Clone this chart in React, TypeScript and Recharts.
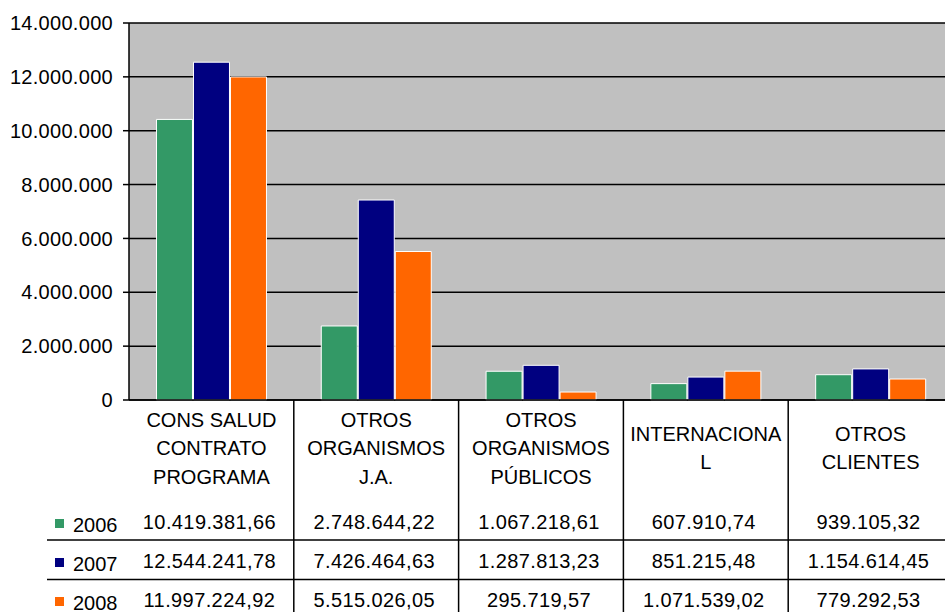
import React from 'react';
import { BarChart, Bar, XAxis, YAxis, CartesianGrid } from 'recharts';

const categories = [
  'CONS SALUD CONTRATO PROGRAMA',
  'OTROS ORGANISMOS J.A.',
  'OTROS ORGANISMOS PÚBLICOS',
  'INTERNACIONAL',
  'OTROS CLIENTES',
];
const categoryLines = [
  ['CONS SALUD', 'CONTRATO', 'PROGRAMA'],
  ['OTROS', 'ORGANISMOS', 'J.A.'],
  ['OTROS', 'ORGANISMOS', 'PÚBLICOS'],
  ['INTERNACIONA', 'L'],
  ['OTROS', 'CLIENTES'],
];
const years = ['2006', '2007', '2008'];
const values2006 = [10419381.66, 2748644.22, 1067218.61, 607910.74, 939105.32];
const values2007 = [12544241.78, 7426464.63, 1287813.23, 851215.48, 1154614.45];
const values2008 = [11997224.92, 5515026.05, 295719.57, 1071539.02, 779292.53];
const yTicks = [0, 2000000, 4000000, 6000000, 8000000, 10000000, 12000000, 14000000];
const colors = ['#339966', '#000080', '#FF6600'];
const titleText = 'Ingresos por tipología de clientes (2006 - 2008)';

const series = [values2006, values2007, values2008];
const data = categories.map((c, i) => ({
  category: c,
  y2006: values2006[i],
  y2007: values2007[i],
  y2008: values2008[i],
}));

const FONT = '"Liberation Sans", Arial, sans-serif';
const CHART_W = 953;
const CHART_H = 612;
const YAXIS_W = 129;
const BAND = (CHART_W - YAXIS_W) / categories.length;

const groupThousands = (s: string) => s.replace(/\B(?=(\d{3})+(?!\d))/g, '.');
const fmtValue = (v: number) => {
  const [int, dec] = v.toFixed(2).split('.');
  return groupThousands(int) + ',' + dec;
};
const fmtTick = (v: number) => groupThousands(String(Math.round(v)));

const TableTick = (props: any) => {
  const { x, y, index } = props;
  const half = BAND / 2;
  const lines = categoryLines[index] || [];
  const n = lines.length;
  return (
    <g>
      {index > 0 && (
        <line x1={x - half} x2={x - half} y1={y} y2={y + 215} stroke="#000" strokeWidth={1.5} />
      )}
      {lines.map((l, i) => (
        <text
          key={'h' + i}
          x={x}
          y={y + 55 + (i - (n - 1) / 2) * 28.5}
          textAnchor="middle"
          fontFamily={FONT}
          fontSize={20}
          fill="#000"
        >
          {l}
        </text>
      ))}
      {series.map((s, r) => (
        <text
          key={'v' + r}
          x={x - 2}
          y={y + 129 + r * 39}
          textAnchor="middle"
          fontFamily={FONT}
          fontSize={20}
          letterSpacing={0.4}
          fill="#000"
        >
          {fmtValue(s[index])}
        </text>
      ))}
      <line x1={index === 0 ? 47 : x - half} x2={x + half} y1={y + 140} y2={y + 140} stroke="#000" strokeWidth={1.5} />
      <line x1={index === 0 ? 47 : x - half} x2={x + half} y1={y + 179.5} y2={y + 179.5} stroke="#000" strokeWidth={1.5} />
      {index === 0 &&
        years.map((yr, r) => (
          <g key={'l' + r}>
            <rect x={55} y={y + 119 + r * 39} width={9} height={9} fill={colors[r]} />
            <text x={73} y={y + 132 + r * 39} fontFamily={FONT} fontSize={20} fill="#000">
              {yr}
            </text>
          </g>
        ))}
    </g>
  );
};

export default function App() {
  return (
    <div
      style={{
        position: 'fixed',
        left: 0,
        top: 0,
        width: 945,
        height: 612,
        overflow: 'hidden',
        background: '#fff',
      }}
    >
      <svg width={945} height={10} style={{ position: 'absolute', left: 0, top: 0, zIndex: 2 }}>
        <text x={95} y={-5} fontFamily={FONT} fontSize={24} fontWeight="bold" fill="#008000">
          {titleText}
        </text>
      </svg>
      <BarChart
        width={CHART_W}
        height={CHART_H}
        data={data}
        margin={{ top: 23, right: 0, bottom: 0, left: 0 }}
        barCategoryGap="16.67%"
        barGap={1}
      >
        <CartesianGrid vertical={false} horizontal stroke="#000" strokeWidth={1.5} fill="#C0C0C0" fillOpacity={1} />
        <XAxis
          dataKey="category"
          interval={0}
          height={212}
          tickSize={0}
          tickMargin={0}
          tickLine={false}
          axisLine={{ stroke: '#000', strokeWidth: 1.5 }}
          tick={<TableTick />}
        />
        <YAxis
          width={YAXIS_W}
          domain={[0, 14000000]}
          ticks={yTicks}
          interval={0}
          tickFormatter={fmtTick}
          tickSize={6}
          tickMargin={10}
          axisLine={{ stroke: '#000', strokeWidth: 1.5 }}
          tickLine={{ stroke: '#000', strokeWidth: 1.5 }}
          tick={{ fill: '#000', fontSize: 20, fontFamily: FONT, letterSpacing: 0.3 }}
        />
        {['y2006', 'y2007', 'y2008'].map((k, i) => (
          <Bar key={k} dataKey={k} fill={colors[i]} stroke="#fff" strokeWidth={1} isAnimationActive={false} />
        ))}
      </BarChart>
    </div>
  );
}
